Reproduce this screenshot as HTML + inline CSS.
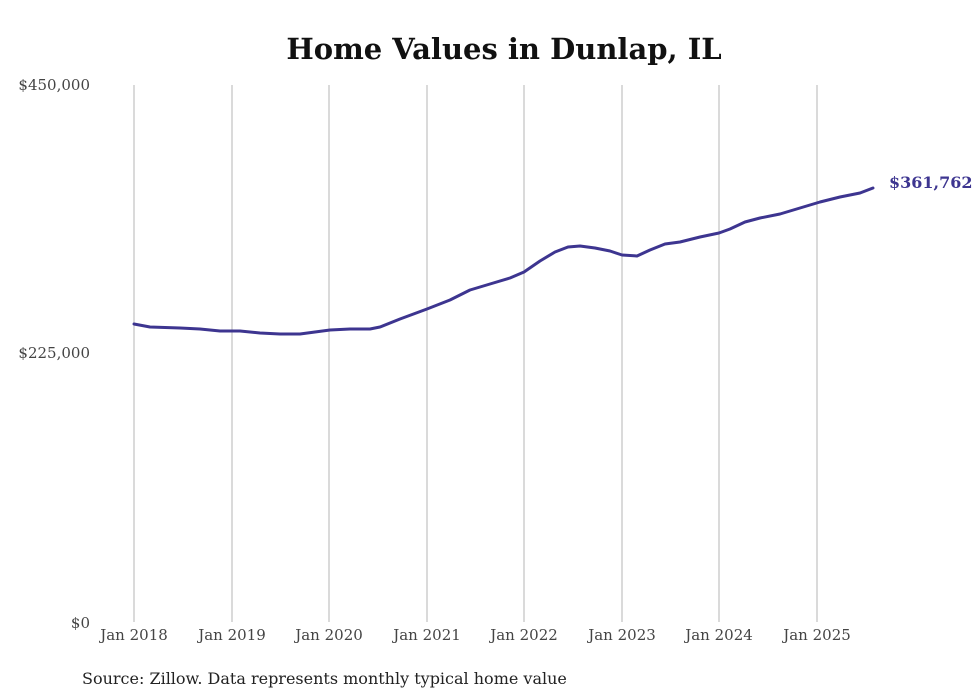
<!DOCTYPE html>
<html><head><meta charset="utf-8"><style>
html,body{margin:0;padding:0;background:#fff;}
svg{display:block;}
</style></head><body>
<svg width="980" height="699" viewBox="0 0 980 699" xmlns="http://www.w3.org/2000/svg">
<rect width="980" height="699" fill="#fff"/>
<text x="504" y="59" text-anchor="middle" font-family="'DejaVu Serif','Liberation Serif',serif" font-weight="bold" font-size="29" fill="#111">Home Values in Dunlap, IL</text>
<g stroke="#b5b5b5" stroke-width="1">
<line x1="134" y1="85" x2="134" y2="622"/>
<line x1="232" y1="85" x2="232" y2="622"/>
<line x1="329" y1="85" x2="329" y2="622"/>
<line x1="427" y1="85" x2="427" y2="622"/>
<line x1="524" y1="85" x2="524" y2="622"/>
<line x1="622" y1="85" x2="622" y2="622"/>
<line x1="719" y1="85" x2="719" y2="622"/>
<line x1="817" y1="85" x2="817" y2="622"/>
</g>
<g font-family="'DejaVu Serif','Liberation Serif',serif" font-size="15" fill="#444">
<text x="90" y="90" text-anchor="end">$450,000</text>
<text x="90" y="358" text-anchor="end">$225,000</text>
<text x="90" y="628" text-anchor="end">$0</text>
<g text-anchor="middle">
<text x="134" y="640">Jan 2018</text>
<text x="232" y="640">Jan 2019</text>
<text x="329" y="640">Jan 2020</text>
<text x="427" y="640">Jan 2021</text>
<text x="524" y="640">Jan 2022</text>
<text x="622" y="640">Jan 2023</text>
<text x="719" y="640">Jan 2024</text>
<text x="817" y="640">Jan 2025</text>
</g>
</g>
<polyline fill="none" stroke="#3d3590" stroke-width="3" stroke-linejoin="round" stroke-linecap="round"
points="134,324 150,327 180,328 200,329 220,331 240,331 260,333 280,334 300,334 330,330 350,329 370,329 380,327 400,319 427,309 450,300 470,290 490,284 510,278 524,272 540,261 555,252 568,247 580,246 595,248 610,251 622,255 637,256 650,250 665,244 680,242 700,237 719,233 730,229 745,222 760,218 780,214 800,208 820,202 840,197 860,193 873,188"/>
<text x="889" y="188" font-family="'DejaVu Serif','Liberation Serif',serif" font-weight="bold" font-size="16" fill="#3d3590">$361,762</text>
<text x="82" y="684" font-family="'DejaVu Serif','Liberation Serif',serif" font-size="16" fill="#222">Source: Zillow. Data represents monthly typical home value</text>
</svg>
</body></html>
